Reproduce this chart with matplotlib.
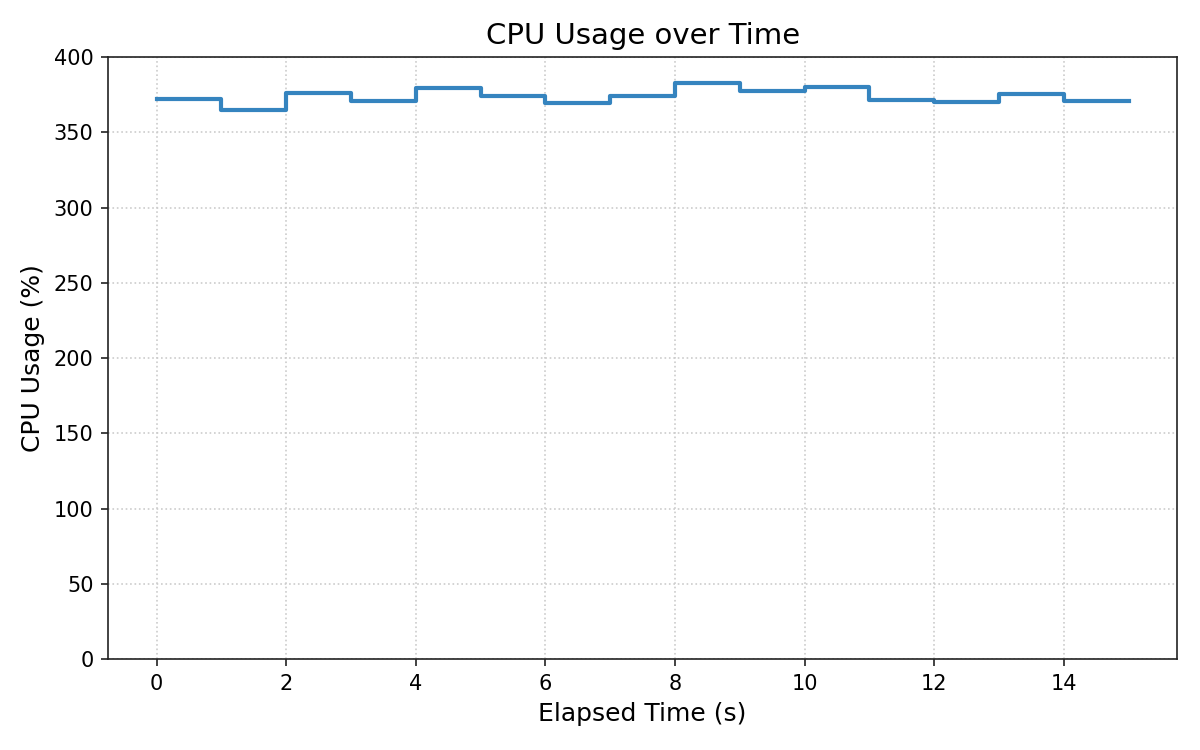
import matplotlib
matplotlib.use("Agg")
import matplotlib.pyplot as plt

# elapsed seconds and cpu usage sampled once per second
elapsed = [0, 1, 2, 3, 4, 5, 6, 7, 8, 9, 10, 11, 12, 13, 14, 15]
cpu = [372.2, 365.0, 376.2, 370.9, 379.3, 374.0, 369.5, 374.0,
       382.9, 377.1, 380.1, 371.7, 370.4, 375.5, 370.9, 370.9]

fig, ax = plt.subplots(figsize=(8, 5), dpi=150)
ax.plot(elapsed, cpu, drawstyle="steps-post", color="#3584bf", linewidth=2)

ax.set_ylim(0, 400)
ax.set_title("CPU Usage over Time", fontsize=14)
ax.set_xlabel("Elapsed Time (s)", fontsize=12)
ax.set_ylabel("CPU Usage (%)", fontsize=12)
ax.tick_params(labelsize=10, color="#222222")
for s in ax.spines.values():
    s.set_color("#222222")
ax.grid(True, linestyle=":", color="#cccccc", linewidth=0.8)

plt.subplots_adjust(left=0.09, right=0.981, top=0.924, bottom=0.121)
plt.savefig("out.png")
